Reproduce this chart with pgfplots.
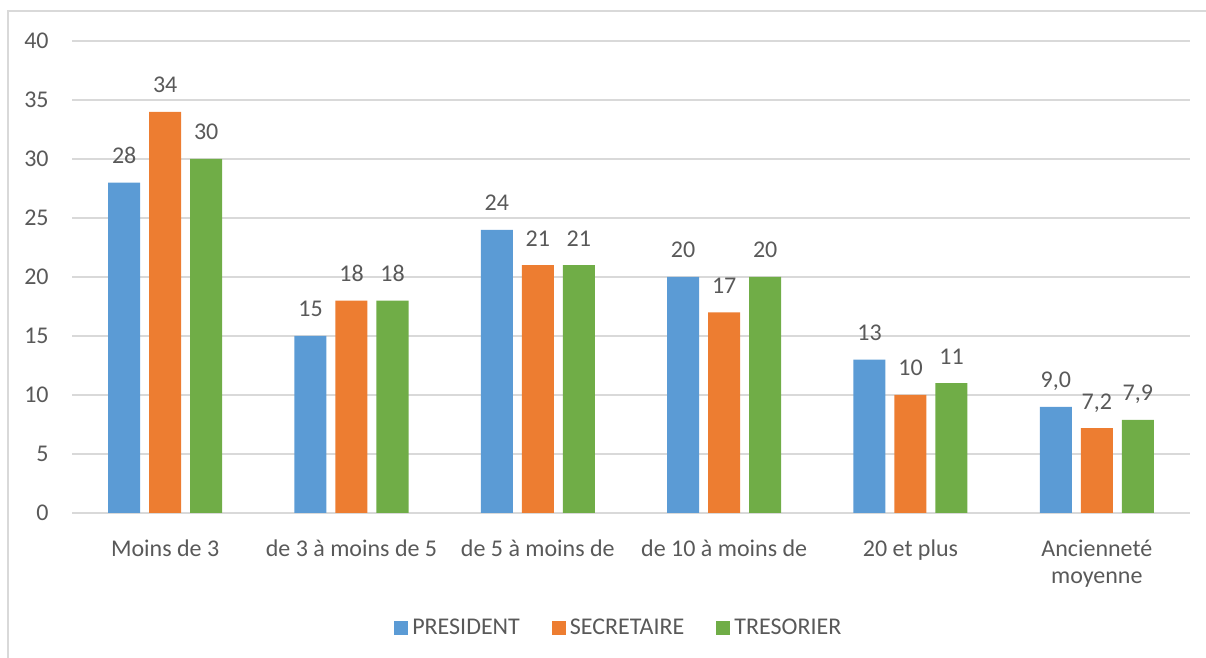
\documentclass[border=0pt]{standalone}
\usepackage{fontspec}
\setmainfont{Carlito}
\usepackage{pgfplots}
\pgfplotsset{compat=1.18}
\definecolor{cBlue}{HTML}{5B9BD5}
\definecolor{cOrange}{HTML}{ED7D31}
\definecolor{cGreen}{HTML}{70AD47}
\definecolor{cText}{HTML}{595959}
\definecolor{cGrid}{HTML}{D9D9D9}
\pgfplotsset{sq/.style={fill=#1, draw=none,
  legend image code/.code={\fill[#1] (0pt,-3.5pt) rectangle (7pt,3.5pt);}}}
\newcommand\chartfont{\fontsize{12}{13.5}\selectfont}
\begin{document}
\chartfont
\begin{tikzpicture}[x=1pt,y=1pt]
\path[use as bounding box] (0,0) rectangle (603,329);
\draw[cGrid, line width=0.6pt] (4,0) -- (4,323.5) -- (603,323.5);
\begin{axis}[
    at={(36pt,72.5pt)}, anchor=south west,
    scale only axis, width=559pt, height=236pt,
    ybar=4.5pt, bar width=16pt,
    xmin=-0.5, xmax=5.5, ymin=0, ymax=40,
    ytick={0,5,...,40},
    xtick={0,...,5},
    xticklabels={Moins de 3, de 3 à moins de 5, de 5 à moins de, de 10 à moins de, 20 et plus, {Ancienneté\\moyenne}},
    axis x line*=bottom, axis y line*=left,
    x axis line style={cGrid, line width=0.6pt, -},
    y axis line style={draw=none},
    tick style={draw=none},
    ymajorgrids, grid style={cGrid, line width=0.6pt},
    /pgf/number format/assume math mode=true,
    ticklabel style={text=cText, font=\chartfont},
    yticklabel style={anchor=east, inner sep=0pt, xshift=-11.5pt},
    xticklabel style={align=center, anchor=north, inner sep=0pt, yshift=-9pt},
    clip=false,
    point meta=explicit symbolic,
    nodes near coords,
    nodes near coords style={text=cText, anchor=base, inner sep=0pt, yshift=9.5pt, font=\chartfont},
    legend style={at={(axis description cs:0.49,-0.244)}, anchor=center, draw=none,
      text=cText, font=\chartfont,
      /tikz/every even column/.append style={column sep=14pt}},
    legend columns=-1,
]
\addplot[sq=cBlue] coordinates {(0,28) [28] (1,15) [15] (2,24) [24] (3,20) [20] (4,13) [13] (5,9.0) [{9,0}]};
\addplot[sq=cOrange] coordinates {(0,34) [34] (1,18) [18] (2,21) [21] (3,17) [17] (4,10) [10] (5,7.2) [{7,2}]};
\addplot[sq=cGreen] coordinates {(0,30) [30] (1,18) [18] (2,21) [21] (3,20) [20] (4,11) [11] (5,7.9) [{7,9}]};
\legend{PRESIDENT, SECRETAIRE, TRESORIER}
\end{axis}
\end{tikzpicture}
\end{document}
